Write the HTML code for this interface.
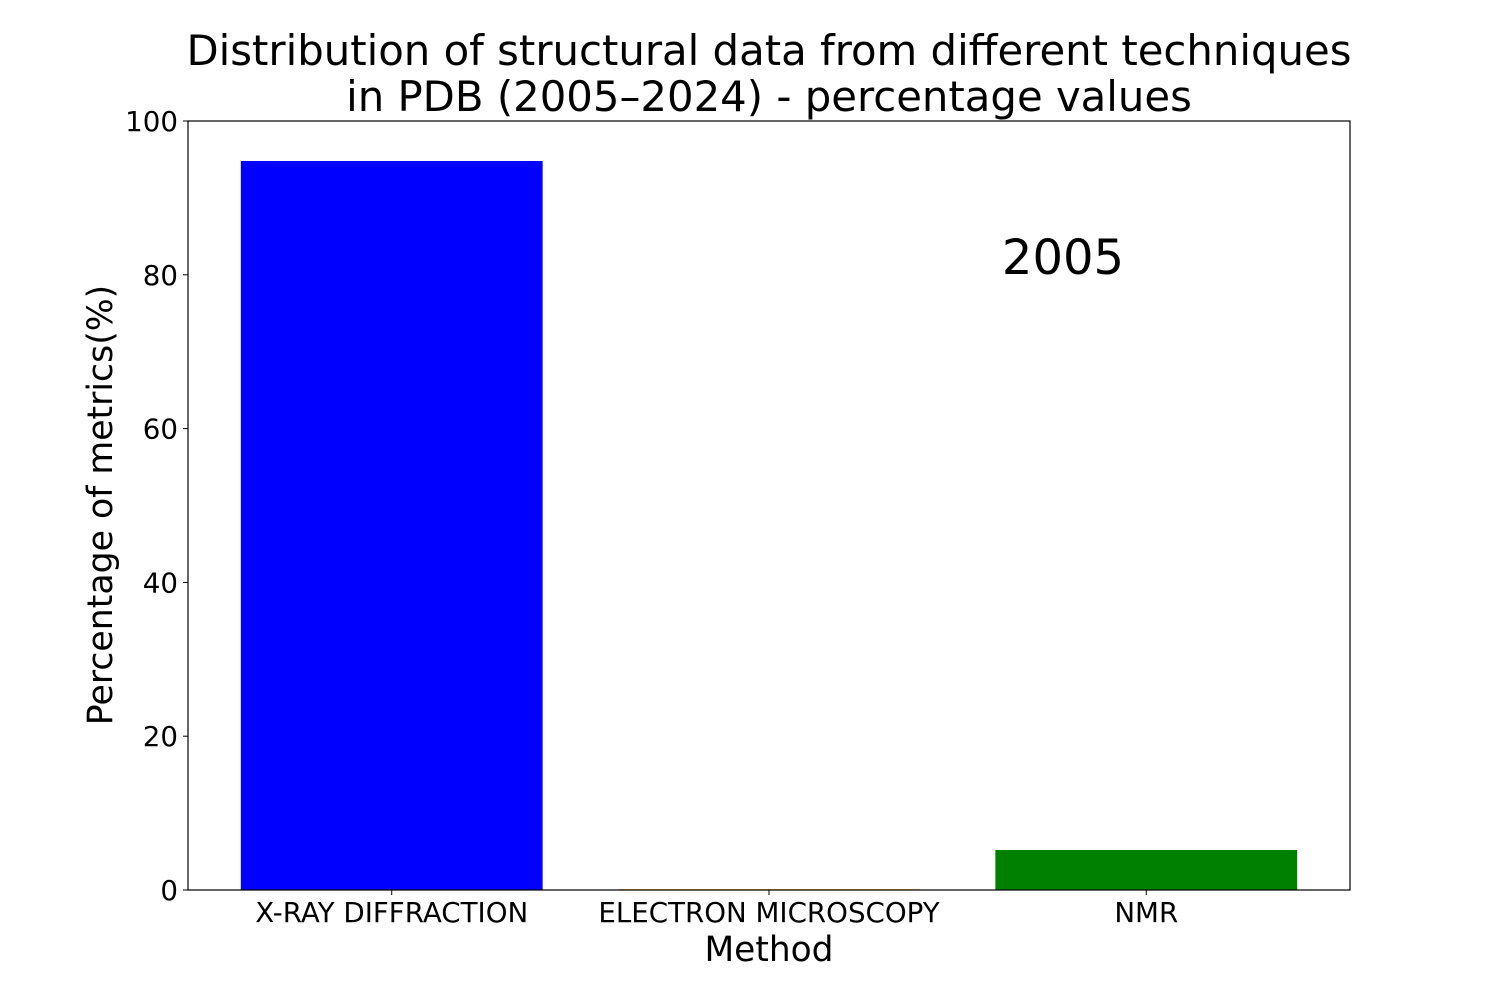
<!DOCTYPE html>
<html><head><meta charset="utf-8"><style>
body{margin:0;background:#fff}
svg text{font-family:"DejaVu Sans","Liberation Sans",sans-serif;fill:#000}
</style></head><body>
<svg id="chart" width="1500" height="1000" xmlns="http://www.w3.org/2000/svg">
<rect width="1500" height="1000" fill="#fff"/>
<text x="769" y="65" font-size="41.8" text-anchor="middle">Distribution of structural data from different techniques</text>
<text x="769" y="111" font-size="41.8" text-anchor="middle">in PDB (2005–2024) - percentage values</text>
<g id="bars"></g>
<g id="yticks"></g>
<g id="xticks"></g>
<rect x="188" y="121" width="1162" height="769" fill="none" stroke="#000" stroke-width="1.2"/>
<text x="1063" y="274" font-size="48" text-anchor="middle">2005</text>
<text x="769" y="961" font-size="34.4" text-anchor="middle">Method</text>
<text transform="translate(112,505) rotate(-90)" font-size="34.7" text-anchor="middle">Percentage of metrics(%)</text>
</svg>
<script>
const categories = ["X-RAY DIFFRACTION", "ELECTRON MICROSCOPY", "NMR"];
const values = [94.8, 0.1, 5.2];
const colors = ["#0000ff", "#ff8c00", "#008000"];
const yTicks = [0, 20, 40, 60, 80, 100];
const NS = "http://www.w3.org/2000/svg";
const L = 188, R = 1350, T = 121, B = 890;
const xMin = -0.54, xMax = 2.54;
function xs(v){return L + (v - xMin) / (xMax - xMin) * (R - L);}
function ys(v){return B - v / 100 * (B - T);}
const bars = document.getElementById('bars');
categories.forEach((c, i) => {
  const r = document.createElementNS(NS, 'rect');
  
  
  const x0 = xs(i - 0.4), x1 = xs(i + 0.4);
  r.setAttribute('x', x0); r.setAttribute('width', x1 - x0);
  r.setAttribute('y', ys(values[i])); r.setAttribute('height', B - ys(values[i]));
  r.setAttribute('fill', colors[i]);
  bars.appendChild(r);
  const xt = document.getElementById('xticks');
  const tk = document.createElementNS(NS, 'line');
  
  
  tk.setAttribute('x1', xs(i)); tk.setAttribute('x2', xs(i));
  tk.setAttribute('y1', B); tk.setAttribute('y2', B + 5); tk.setAttribute('stroke', '#000');
  xt.appendChild(tk);
  const t = document.createElementNS(NS, 'text');
  
  
  t.setAttribute('x', xs(i)); t.setAttribute('y', B + 32);
  t.setAttribute('font-size', '27.7'); t.setAttribute('text-anchor', 'middle');
  t.textContent = c;
  xt.appendChild(t);
});
const yt = document.getElementById('yticks');
yTicks.forEach(v => {
  const tk = document.createElementNS(NS, 'line');
  
  
  tk.setAttribute('x1', L - 5); tk.setAttribute('x2', L);
  tk.setAttribute('y1', ys(v)); tk.setAttribute('y2', ys(v)); tk.setAttribute('stroke', '#000');
  yt.appendChild(tk);
  const t = document.createElementNS(NS, 'text');
  
  
  t.setAttribute('x', L - 10); t.setAttribute('y', ys(v) + 10);
  t.setAttribute('font-size', '27.7'); t.setAttribute('text-anchor', 'end');
  t.textContent = v;
  yt.appendChild(t);
});
</script>
</body></html>
